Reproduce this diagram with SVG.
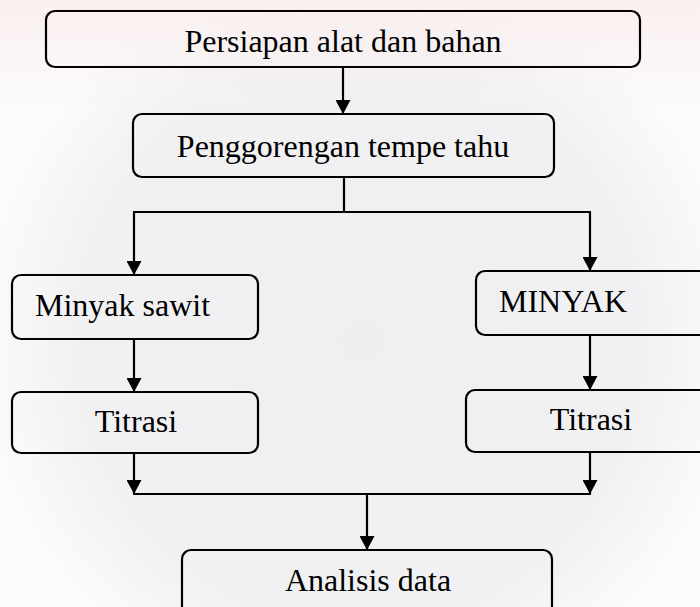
<svg xmlns="http://www.w3.org/2000/svg" width="700" height="607" viewBox="0 0 700 607">
<style>
.box{fill:none;stroke:#000;stroke-width:2.2}
.lbl{font-family:"Liberation Serif","Times New Roman",serif;font-size:32px;fill:#000}
.mid{text-anchor:middle}
.conn{fill:none;stroke:#000;stroke-width:2.2}
</style>
<defs>
<marker id="ah" markerWidth="14" markerHeight="15" viewBox="0 0 14 15" refX="14" refY="7.5" orient="auto" markerUnits="userSpaceOnUse">
<path d="M0,0 L14,7.5 L0,15 z" fill="#000"/>
</marker>
<radialGradient id="wm" cx="360" cy="340" r="380" gradientUnits="userSpaceOnUse">
<stop offset="0" stop-color="#efeff1"/>
<stop offset="0.75" stop-color="#f1f1f3"/>
<stop offset="1" stop-color="#fbfbfb"/>
</radialGradient>
<linearGradient id="pink" x1="0" y1="0" x2="0" y2="1">
<stop offset="0" stop-color="#fbeeee" stop-opacity="0.9"/>
<stop offset="1" stop-color="#fbeeee" stop-opacity="0"/>
</linearGradient>
</defs>
<g id="background">
<rect x="0" y="0" width="700" height="607" fill="url(#wm)"/>
<rect x="0" y="0" width="700" height="110" fill="url(#pink)"/>
</g>
<g id="connectors">
<line class="conn" x1="343" y1="67" x2="343" y2="114" marker-end="url(#ah)"/>
<polyline class="conn" points="344,177 344,212"/>
<line class="conn" x1="133" y1="212" x2="591" y2="212"/>
<line class="conn" x1="134" y1="212" x2="134" y2="275" marker-end="url(#ah)"/>
<line class="conn" x1="590" y1="212" x2="590" y2="271" marker-end="url(#ah)"/>
<line class="conn" x1="134" y1="339" x2="134" y2="392" marker-end="url(#ah)"/>
<line class="conn" x1="590" y1="335" x2="590" y2="390" marker-end="url(#ah)"/>
<line class="conn" x1="134" y1="453" x2="134" y2="494" marker-end="url(#ah)"/>
<line class="conn" x1="590" y1="452" x2="590" y2="494" marker-end="url(#ah)"/>
<line class="conn" x1="133" y1="494" x2="591" y2="494"/>
<line class="conn" x1="367" y1="494" x2="367" y2="550" marker-end="url(#ah)"/>
</g>
<g id="node-persiapan">
<rect class="box" x="46" y="11" width="594" height="56" rx="9"/>
<text class="lbl mid" x="343" y="52">Persiapan alat dan bahan</text>
</g>
<g id="node-penggorengan">
<rect class="box" x="133" y="114" width="421" height="63" rx="9"/>
<text class="lbl mid" x="343" y="157">Penggorengan tempe tahu</text>
</g>
<g id="node-minyak-sawit">
<rect class="box" x="12" y="275" width="246" height="64" rx="9"/>
<text class="lbl" x="35" y="316">Minyak sawit</text>
</g>
<g id="node-minyak">
<rect class="box" x="476" y="271" width="234" height="64" rx="9"/>
<text class="lbl" x="499" y="312">MINYAK</text>
</g>
<g id="node-titrasi-left">
<rect class="box" x="12" y="392" width="246" height="61" rx="9"/>
<text class="lbl mid" x="136" y="432">Titrasi</text>
</g>
<g id="node-titrasi-right">
<rect class="box" x="466" y="390" width="244" height="62" rx="9"/>
<text class="lbl mid" x="591" y="430">Titrasi</text>
</g>
<g id="node-analisis">
<rect class="box" x="182" y="550" width="370" height="70" rx="9"/>
<text class="lbl mid" x="368" y="591">Analisis data</text>
</g>
</svg>
